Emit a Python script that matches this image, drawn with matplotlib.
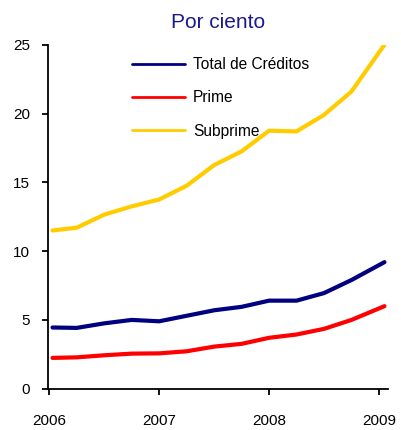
import numpy as np
import matplotlib.pyplot as plt

plt.rcParams['font.family'] = ['Liberation Sans', 'DejaVu Sans']

# quarterly observations, 2006Q1 .. 2009Q1
years = [2006.03, 2006.25, 2006.5, 2006.75, 2007.0, 2007.25, 2007.5,
         2007.75, 2008.0, 2008.25, 2008.5, 2008.75, 2009.05]
total = [4.45, 4.42, 4.75, 5.0, 4.9, 5.3, 5.7, 5.95, 6.4, 6.4, 6.95, 7.9, 9.2]
prime = [2.24, 2.28, 2.43, 2.55, 2.57, 2.72, 3.06, 3.26, 3.7, 3.94, 4.35, 5.0, 6.0]
subprime = [11.5, 11.7, 12.65, 13.25, 13.75, 14.75, 16.25, 17.25, 18.75, 18.7,
            19.9, 21.6, 25.0]

labels = ['Total de Créditos', 'Prime', 'Subprime']
colors = ['#000080', '#ff0000', '#ffcc00']

fig = plt.figure(figsize=(4.01, 4.30), dpi=100)
ax = fig.add_axes([0.12, 0.096, 0.847, 0.80])

for s, lab, c in zip([total, prime, subprime], labels, colors):
    ax.plot(years, s, color=c, lw=3, label=lab, solid_joinstyle='round',
            solid_capstyle='round')

ax.set_xlim(2005.99, 2009.08)
ax.set_ylim(0, 25)
ax.set_xticks([2006, 2007, 2008, 2009])
ax.set_xticklabels(['2006', '2007', '2008', '2009'])
ax.set_yticks([0, 5, 10, 15, 20, 25])

for sp in ['top', 'right']:
    ax.spines[sp].set_visible(False)
for sp in ['left', 'bottom']:
    ax.spines[sp].set_linewidth(1.3)
ax.tick_params(axis='x', direction='out', length=4, width=1.3, pad=14, labelsize=11)
ax.tick_params(axis='y', direction='out', length=4, width=1.3, pad=9, labelsize=11)

ax.set_title('Por ciento', color='#1a1a8c', fontsize=15, pad=12)

leg = ax.legend(loc='upper left', bbox_to_anchor=(0.205, 1.005), frameon=False,
                fontsize=11.2, handlelength=3.4, labelspacing=1.18,
                handletextpad=0.55)
for h in leg.get_lines():
    h.set_linewidth(2)

fig.savefig('out.png', dpi=100)
